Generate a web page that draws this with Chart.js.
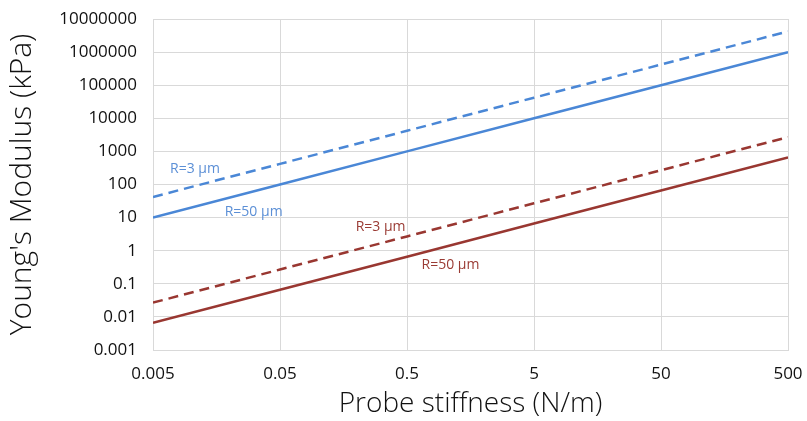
<!DOCTYPE html>
<html>
<head>
<meta charset="utf-8">
<script src="https://cdn.jsdelivr.net/npm/chart.js@4/dist/chart.umd.min.js"></script>
<style>
  html, body { margin: 0; padding: 0; background: #fff; }
  #wrap { width: 807px; height: 421px; }
</style>
</head>
<body>
<div id="wrap"><canvas id="chart" width="807" height="421"></canvas></div>
<script>
// probe stiffness (N/m)
const stiffness = [0.005, 0.05, 0.5, 5, 50, 500];
// Young's modulus (kPa)
const blue3um  = [42, 420, 4200, 42000, 420000, 4200000];
const blue50um = [10, 100, 1000, 10000, 100000, 1000000];
const red3um   = [0.027, 0.27, 2.7, 27, 270, 2700];
const red50um  = [0.0066, 0.066, 0.66, 6.6, 66, 660];
const xTicks = [0.005, 0.05, 0.5, 5, 50, 500];
const yTicks = [0.001, 0.01, 0.1, 1, 10, 100, 1000, 10000, 100000, 1000000, 10000000];

// in-plot labels: [text, x, y, colour]
const labels = [
    ['R=3 µm', 0.0107, 300, '#5b8fd6'],
    ['R=50 µm', 0.031, 15, '#5b8fd6'],
    ['R=3 µm', 0.31, 5.2, '#9a3b34'],
    ['R=50 µm', 1.1, 0.36, '#9a3b34']
];

const BLUE = '#4a87d6';
const RED = '#993731';
const FONT = "'Open Sans', sans-serif";

function pts(ys) {
    return stiffness.map((x, i) => ({ x: x, y: ys[i] }));
}

const lineLabels = {
    id: 'lineLabels',
    afterDatasetsDraw(chart) {
        const { ctx, scales } = chart;
        ctx.save();
        ctx.font = '14px ' + FONT;
        ctx.textAlign = 'center';
        ctx.textBaseline = 'middle';
        labels.forEach(l => {
            ctx.fillStyle = l[3];
            ctx.fillText(l[0], scales.x.getPixelForValue(l[1]), scales.y.getPixelForValue(l[2]));
        });
        ctx.restore();
    }
};

new Chart(document.getElementById('chart'), {
    type: 'line',
    data: {
        datasets: [
            { data: pts(blue3um), borderColor: BLUE, borderDash: [10, 6] },
            { data: pts(blue50um), borderColor: BLUE },
            { data: pts(red3um), borderColor: RED, borderDash: [10, 6] },
            { data: pts(red50um), borderColor: RED }
        ]
    },
    options: {
        responsive: false,
        animation: false,
        layout: { padding: 0 },
        elements: {
            point: { radius: 0 },
            line: { borderWidth: 2.5, tension: 0 }
        },
        plugins: {
            legend: { display: false },
            tooltip: { enabled: false }
        },
        scales: {
            x: {
                type: 'logarithmic',
                min: 0.005,
                max: 500,
                afterBuildTicks: s => { s.ticks = xTicks.map(v => ({ value: v })); },
                afterFit: s => { s.height = 71; s.paddingRight = 19; },
                grid: { color: '#d9d9d9', drawTicks: false },
                border: { color: '#d9d9d9' },
                ticks: {
                    color: '#111',
                    font: { family: FONT, size: 17 },
                    padding: 14,
                    maxRotation: 0,
                    callback: v => String(v)
                },
                title: {
                    display: true,
                    text: 'Probe stiffness (N/m)',
                    color: '#111',
                    font: { family: FONT, size: 28, weight: 300 },
                    padding: { top: 0, bottom: 0 }
                }
            },
            y: {
                type: 'logarithmic',
                min: 0.001,
                max: 10000000,
                afterBuildTicks: s => { s.ticks = yTicks.map(v => ({ value: v })); },
                afterFit: s => { s.width = 153; s.paddingTop = 19; },
                grid: { color: '#d9d9d9', drawTicks: false },
                border: { color: '#d9d9d9' },
                ticks: {
                    color: '#111',
                    font: { family: FONT, size: 17 },
                    padding: 16,
                    callback: v => String(v)
                },
                title: {
                    display: true,
                    text: "Young's Modulus (kPa)",
                    color: '#111',
                    font: { family: FONT, size: 30, weight: 300 },
                    padding: { top: 4, bottom: 0 }
                }
            }
        }
    },
    plugins: [lineLabels]
});
</script>
</body>
</html>
